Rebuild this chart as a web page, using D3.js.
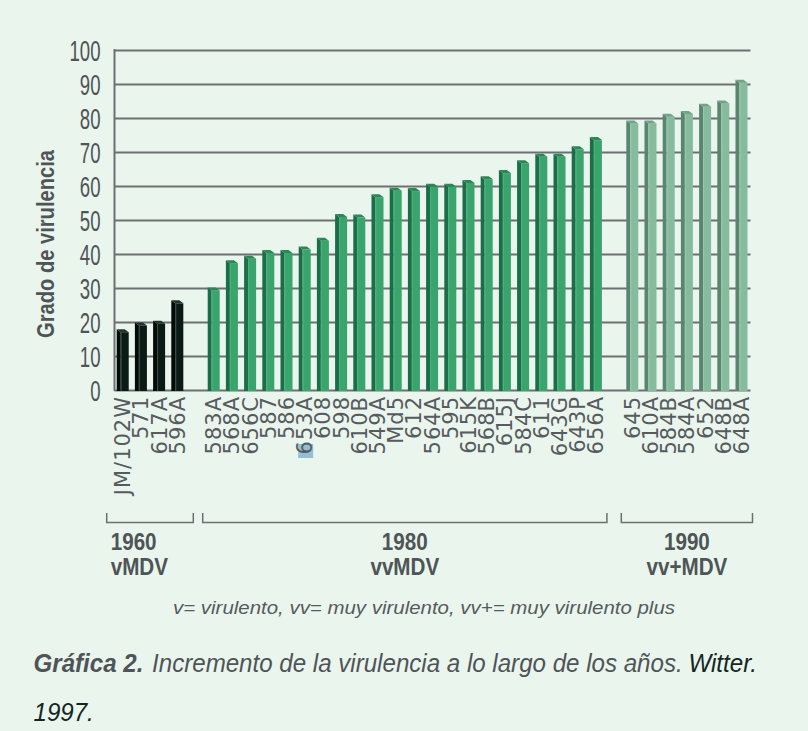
<!DOCTYPE html>
<html>
<head>
<meta charset="utf-8">
<script src="https://cdn.jsdelivr.net/npm/d3@7"></script>
<style>
  body { margin: 0; background: #eaf5ee; }
  svg { display: block; }
</style>
</head>
<body>
<div id="canvas"></div>
<script>
// data
var groupYears = ["1960", "1980", "1990"];
var groupTypes = ["vMDV", "vvMDV", "vv+MDV"];
var strains1960 = ["JM/102W", "571", "617A", "596A"];
var values1960 = [17, 19, 19.5, 25.5];
var strains1980 = ["583A", "568A", "656C", "587", "586", "653A", "608", "598", "610B", "549A", "Md5",
    "612", "564A", "595", "615K", "568B", "615J", "584C", "611", "643G", "643P", "656A"];
var values1980 = [29.3, 37.3, 38.6, 40.3, 40.3, 41.3, 43.9, 50.9, 50.7, 56.7, 58.6,
    58.5, 59.8, 59.8, 60.9, 62, 63.8, 66.7, 68.6, 68.6, 70.8, 73.5];
var strains1990 = ["645", "610A", "584B", "584A", "652", "648B", "648A"];
var values1990 = [78.4, 78.4, 80.4, 81.2, 83.3, 84.3, 90.4];
var yTicks = [0, 10, 20, 30, 40, 50, 60, 70, 80, 90, 100];

var legendText = "v= virulento, vv= muy virulento, vv+= muy virulento plus";

var sans = "'Liberation Sans', Arial, sans-serif";
var colors = [
    { front: "#0b1a15", side: "#020b08", top: "#23332e", edge: "#3d4d47" },
    { front: "#39a56c", side: "#1b6e47", top: "#2a8757", edge: "#4db27c" },
    { front: "#86bc9d", side: "#5a8571", top: "#71a387", edge: "#9ac8ad" }
];

function init() {
    var svg = d3.select("#canvas").append("svg")
        .attr("width", 808)
        .attr("height", 731);
    svg.append("rect")
        .attr("width", 808)
        .attr("height", 731)
        .style("fill", "#eaf5ee");

    // build the slots: groups with an empty slot in between
    var groups = [
        { strains: strains1960, values: values1960 },
        { strains: strains1980, values: values1980 },
        { strains: strains1990, values: values1990 }
    ];
    var bars = [];
    var slots = [];
    groups.forEach(function (g, gi) {
        if (gi > 0) slots.push("gap" + gi);
        g.strains.forEach(function (s, i) {
            bars.push({ name: s, value: g.values[i], group: gi });
            slots.push(s);
        });
    });

    var x = d3.scaleBand()
        .domain(slots)
        .range([116.7, 747.5])
        .paddingInner(0.34)
        .paddingOuter(0);
    var y = d3.scaleLinear()
        .domain([0, 100])
        .range([390, 50]);
    var bw = x.bandwidth();

    // grid + axis
    var tickScale = 0.62;
    var axis = svg.append("g")
        .attr("transform", "translate(114.5,0)")
        .call(d3.axisLeft(y).tickValues(yTicks).tickSize(-636).tickPadding(14));
    axis.select(".domain").remove();
    axis.selectAll(".tick line")
        .attr("stroke", "#6c7072")
        .attr("stroke-width", 2);
    axis.selectAll(".tick text")
        .attr("transform", "scale(" + tickScale + ",1)")
        .attr("x", -14 / tickScale)
        .attr("dy", "0.36em")
        .style("font-family", sans)
        .style("font-size", "30px")
        .style("fill", "#4f5456");
    svg.append("line")
        .attr("x1", 114.5).attr("x2", 114.5)
        .attr("y1", y(100) - 1).attr("y2", y(0) + 1)
        .attr("stroke", "#6c7072")
        .attr("stroke-width", 2);

    // 3d-looking bars
    var side = 4, depth = 3;
    var bar = svg.append("g").selectAll("g")
        .data(bars)
        .enter().append("g");
    bar.append("polygon")
        .attr("points", function (d) {
            var x0 = x(d.name), yv = y(d.value), y0 = y(0) + 1;
            return [[x0, yv - depth], [x0 + side, yv], [x0 + side, y0], [x0, y0]].join(" ");
        })
        .style("fill", function (d) { return colors[d.group].side; });
    bar.append("rect")
        .attr("x", function (d) { return x(d.name) + side; })
        .attr("y", function (d) { return y(d.value); })
        .attr("width", bw - side)
        .attr("height", function (d) { return y(0) + 1 - y(d.value); })
        .style("fill", function (d) { return colors[d.group].front; });
    bar.append("line")
        .attr("x1", function (d) { return x(d.name) + side + 0.5; })
        .attr("x2", function (d) { return x(d.name) + side + 0.5; })
        .attr("y1", function (d) { return y(d.value); })
        .attr("y2", y(0) + 1)
        .attr("stroke", function (d) { return colors[d.group].edge; })
        .attr("stroke-width", 1);
    bar.append("polygon")
        .attr("points", function (d) {
            var x0 = x(d.name), yv = y(d.value);
            return [[x0, yv - depth], [x0 + bw - side, yv - depth], [x0 + bw, yv], [x0 + side, yv]].join(" ");
        })
        .style("fill", function (d) { return colors[d.group].top; });

    // selection highlight behind the "6" of 653A
    svg.append("rect")
        .attr("x", x("653A") - 0.5)
        .attr("y", 444)
        .attr("width", 15)
        .attr("height", 14)
        .style("fill", "#94bed3");

    // strain labels
    svg.append("g").selectAll("text")
        .data(bars)
        .enter().append("text")
        .attr("transform", function (d) {
            return "translate(" + (x(d.name) + bw / 2) + ",396) rotate(-90)";
        })
        .attr("dy", "0.36em")
        .attr("text-anchor", "end")
        .style("font-family", "'DejaVu Sans', sans-serif")
        .style("font-size", "21px")
        .style("letter-spacing", "1px")
        .style("fill", "#565b5d")
        .text(function (d) { return d.name; });

    // y title
    svg.append("text")
        .attr("transform", "translate(54,244) rotate(-90)")
        .attr("text-anchor", "middle")
        .attr("textLength", 188)
        .attr("lengthAdjust", "spacingAndGlyphs")
        .style("font-family", sans)
        .style("font-weight", "bold")
        .style("font-size", "24px")
        .style("fill", "#4f5456")
        .text("Grado de virulencia");

    // group brackets
    var labScale = 0.86;
    groups.forEach(function (g, gi) {
        var pad = gi === 0 ? 10 : 5;
        var x1 = x(g.strains[0]) - pad;
        var x2 = x(g.strains[g.strains.length - 1]) + bw + pad;
        svg.append("path")
            .attr("d", "M" + x1 + ",513V522.5H" + x2 + "V513")
            .attr("fill", "none")
            .attr("stroke", "#6c7072")
            .attr("stroke-width", 1.5);
        var tx = gi === 0 ? x1 + 4 : (x1 + x2) / 2;
        var lg = svg.append("g")
            .attr("transform", "translate(" + tx + ",0) scale(" + labScale + ",1)");
        [groupYears[gi], groupTypes[gi]].forEach(function (t, li) {
            lg.append("text")
                .attr("y", 550 + li * 25)
                .attr("text-anchor", gi === 0 ? "start" : "middle")
                .style("font-family", sans)
                .style("font-weight", "bold")
                .style("font-size", "24px")
                .style("fill", "#4f5456")
                .text(t);
        });
    });

    // legend line
    svg.append("text")
        .attr("x", 424)
        .attr("y", 614)
        .attr("text-anchor", "middle")
        .attr("textLength", 502)
        .attr("lengthAdjust", "spacingAndGlyphs")
        .style("font-family", sans)
        .style("font-style", "italic")
        .style("font-size", "19px")
        .style("fill", "#565b5d")
        .text(legendText);

    // caption, squeezed horizontally to the width of the original
    var capG = svg.append("g");
    var cap = capG.append("text")
        .attr("y", 672)
        .style("font-family", sans)
        .style("font-style", "italic")
        .style("font-size", "25px")
        .style("fill", "#4f5456");
    cap.append("tspan").style("font-weight", "bold").text("Gráfica 2.");
    cap.append("tspan").attr("dx", 9).text("Incremento de la virulencia a lo largo de los años.");
    cap.append("tspan").attr("dx", 6).style("fill", "#14261f").text("Witter.");
    capG.append("text")
        .attr("y", 721)
        .style("font-family", sans)
        .style("font-style", "italic")
        .style("font-size", "25px")
        .style("fill", "#14261f")
        .text("1997.");
    var capW = cap.node().getBBox().width;
    capG.attr("transform", "translate(33.5,0) scale(" + (724 / capW) + ",1)");
}
window.onload = init;
</script>
</body>
</html>
